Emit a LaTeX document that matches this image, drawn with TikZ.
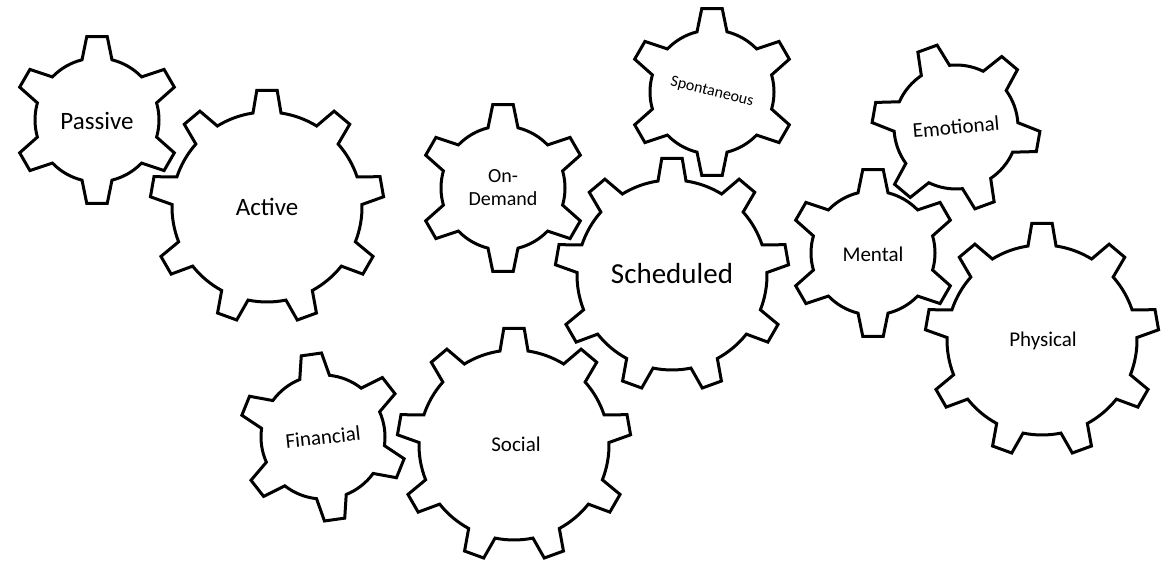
\documentclass[tikz,border=0pt]{standalone}
\usepackage{fontspec}
\setmainfont{Carlito}
\usetikzlibrary{positioning}

\tikzset{gearline/.style={draw=black, line width=3pt, line join=miter}}
\tikzset{cog/.style={align=center, inner sep=0pt, font=\fontsize{21}{24}\selectfont}}

% gear outline: centre, teeth, turn, root radius, tip radius, half base, half tip (deg)
\newcommand{\gear}[7]{%
  \begin{scope}[shift={#1}]
    \pgfmathsetmacro\gstep{360/#2}
    \draw[gearline] (#3-#6:#4)
      \foreach \i [evaluate=\i as \a using #3+(\i-1)*\gstep] in {1,...,#2}{
        -- (\a-#6:#4) -- (\a-#7:#5) -- (\a+#7:#5) -- (\a+#6:#4)
        arc[start angle=\a+#6, end angle=\a+\gstep-#6, radius=#4]
      } -- cycle;
  \end{scope}}
\newcommand{\smallgear}[2]{\gear{#1}{6}{#2}{62}{84}{14}{7}}
\newcommand{\biggear}[1]{\gear{#1}{9}{90}{95}{117}{8.5}{5}}

\begin{document}
\begin{tikzpicture}[x=1pt,y=1pt]
  \useasboundingbox (0,0) rectangle (1169,561);

  % labels
  \node[cog, font=\fontsize{25}{30}\selectfont] (passive) at (97,440) {Passive};
  \node[cog, font=\fontsize{25}{30}\selectfont] (active) at (267,354) {Active};
  \node[cog, font=\fontsize{20}{23}\selectfont] (ondemand) at (503,373) {On-\\Demand};
  \node[cog, font=\fontsize{16}{19}\selectfont, rotate=-14] (spontaneous) at (712,469) {Spontaneous};
  \node[cog, rotate=5] (emotional) at (956,434) {Emotional};
  \node[cog] (mental) at (873,307) {Mental};
  \node[cog, font=\fontsize{29}{34}\selectfont] (scheduled) at (672,287) {Scheduled};
  \node[cog] (physical) at (1043,220) {Physical};
  \node[cog] (social) at (516,117) {Social};
  \node[cog, rotate=6] (financial) at (323,124) {Financial};

  % small cogs
  \smallgear{(97,441)}{90}
  \smallgear{(503,373)}{90}
  \smallgear{(712,469)}{90}
  \smallgear{(956,434)}{110}
  \smallgear{(873,308)}{90}
  \smallgear{(323,124)}{98}

  % big cogs
  \biggear{(267,354)}
  \biggear{(672,286)}
  \biggear{(1042,221)}
  \biggear{(514,116)}
\end{tikzpicture}
\end{document}
